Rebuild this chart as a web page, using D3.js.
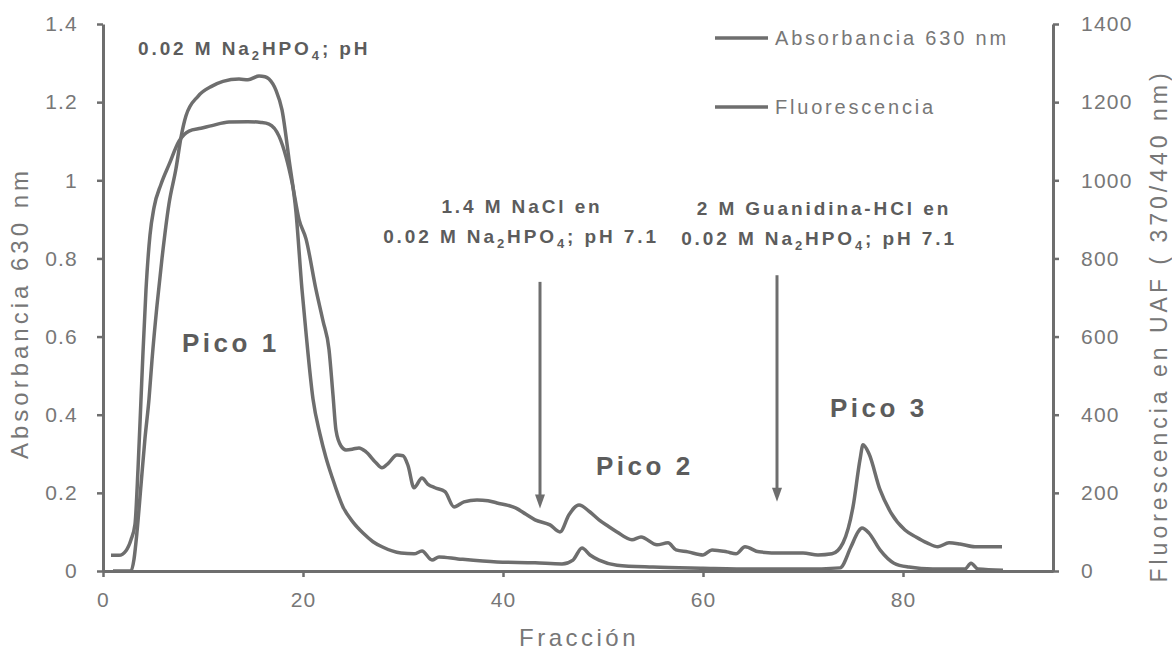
<!DOCTYPE html>
<html>
<head>
<meta charset="utf-8">
<script src="https://cdn.jsdelivr.net/npm/d3@7"></script>
<style>
  body { margin: 0; background: #fff; }
  svg { display: block; }
  text { font-family: "Liberation Sans", Arial, sans-serif; }
</style>
</head>
<body>
<div id="chart"></div>
<script>
// absorbance at 630 nm (left axis)
const fraccionAbs = [1.0, 2.8, 3.1, 3.4, 3.8, 4.2, 4.6, 4.9, 5.4, 5.9, 6.6, 7.3, 7.8, 8.3, 9.5, 10.9, 12.0, 13.6, 14.5, 15.6, 16.2, 16.6, 17.3, 17.9, 18.6, 19.3, 19.9, 20.3, 21.0, 21.7, 22.3, 22.9, 24.0, 25.0, 26.0, 27.0, 27.9, 29.8, 31.1, 31.9, 32.9, 33.6, 35.5, 39.4, 43.2, 45.9, 47.0, 47.9, 48.7, 49.6, 51.4, 55, 60, 65, 70, 73.7, 74.8, 75.5, 75.9, 76.6, 77.7, 79.1, 80.6, 83, 86.2, 86.8, 87.5, 90]
const absorbancia = [0, 0, 0.03, 0.1, 0.22, 0.34, 0.44, 0.54, 0.68, 0.80, 0.94, 1.03, 1.11, 1.165, 1.215, 1.241, 1.253, 1.259, 1.257, 1.267, 1.265, 1.259, 1.23, 1.18, 1.054, 0.918, 0.72, 0.61, 0.44, 0.35, 0.29, 0.241, 0.164, 0.125, 0.097, 0.075, 0.062, 0.046, 0.044, 0.051, 0.028, 0.036, 0.031, 0.023, 0.021, 0.018, 0.028, 0.059, 0.041, 0.028, 0.015, 0.01, 0.007, 0.005, 0.005, 0.008, 0.062, 0.10, 0.11, 0.097, 0.054, 0.02, 0.01, 0.005, 0.005, 0.02, 0.005, 0.002]

// fluorescence in UAF (right axis)
const fraccionFluor = [0.8, 1.6, 2.3, 2.8, 3.2, 3.5, 3.8, 4.0, 4.3, 4.7, 5.1, 5.8, 6.6, 7.6, 8.6, 9.8, 10.9, 12.6, 14.5, 15.8, 16.6, 17.6, 18.3, 18.9, 19.6, 20.3, 21.3, 22.0, 22.6, 23.0, 23.3, 23.8, 24.3, 25.0, 25.6, 26.3, 27.3, 27.9, 28.5, 29.4, 30.0, 30.5, 31.1, 31.9, 32.5, 33.2, 34.2, 35.1, 36.1, 37.4, 38.5, 39.4, 40.5, 41.3, 42.3, 43.2, 44.7, 45.7, 46.6, 47.6, 48.7, 49.6, 50.5, 51.4, 52.9, 53.8, 55.4, 56.5, 57.3, 58.5, 60.0, 60.9, 62.4, 63.3, 64.2, 65.6, 67.8, 70.0, 71.5, 72.9, 74.0, 75.0, 75.7, 76.0, 76.6, 77.7, 78.8, 80.2, 81.3, 82.4, 83.5, 84.6, 85.7, 87.2, 89.9]
const fluorescencia = [40, 40, 52, 80, 120, 260, 440, 560, 720, 860, 930, 990, 1040, 1100, 1126, 1133, 1140, 1149, 1150, 1148, 1144, 1113, 1060, 995, 900, 850, 720, 640, 567, 450, 360, 320, 310, 312, 315, 305, 277, 264, 275, 297, 295, 270, 213, 238, 222, 213, 203, 164, 177, 182, 180, 174, 168, 161, 145, 131, 118, 100, 144, 169, 151, 131, 115, 100, 80, 87, 67, 72, 54, 49, 41, 54, 49, 44, 62, 49, 46, 46, 41, 44, 72, 164, 285, 323, 300, 208, 149, 105, 87, 72, 62, 72, 69, 62, 62]

const xTicks = [0, 20, 40, 60, 80]
const yLeftTicks = [0, 0.2, 0.4, 0.6, 0.8, 1, 1.2, 1.4]
const yLeftLabels = ["0", "0.2", "0.4", "0.6", "0.8", "1", "1.2", "1.4"]
const yRightTicks = [0, 200, 400, 600, 800, 1000, 1200, 1400]
const leyenda = ["Absorbancia 630 nm", "Fluorescencia"]
const picos = ["Pico 1", "Pico 2", "Pico 3"]

const W = 1172, H = 651
const gray = '#6e6e6e', textGray = '#777', boldGray = '#5c5c5c'

const svg = d3.select('#chart').append('svg')
    .attr('width', W).attr('height', H)

const x = d3.scaleLinear().domain([0, 95]).range([103, 1053])
const yL = d3.scaleLinear().domain([0, 1.4]).range([571, 24])
const yR = d3.scaleLinear().domain([0, 1400]).range([571, 24])

// axes
const styleAxis = g => {
    g.select('.domain').attr('stroke', gray).attr('stroke-width', 3)
    g.selectAll('.tick line').attr('stroke', gray).attr('stroke-width', 2.5)
    g.selectAll('.tick text').attr('fill', textGray).attr('font-size', 21)
        .attr('letter-spacing', 1.2).attr('font-family', '"Liberation Sans", Arial, sans-serif')
}

svg.append('g').attr('transform', 'translate(0,571)')
    .call(d3.axisBottom(x).tickValues(xTicks).tickSize(6).tickSizeOuter(0).tickPadding(15))
    .call(styleAxis)

svg.append('g').attr('transform', 'translate(103,0)')
    .call(d3.axisLeft(yL).tickValues(yLeftTicks).tickFormat((d, i) => yLeftLabels[i])
        .tickSize(6).tickSizeOuter(0).tickPadding(19))
    .call(styleAxis)

svg.append('g').attr('transform', 'translate(1053,0)')
    .call(d3.axisRight(yR).tickValues(yRightTicks).tickFormat(d3.format('d'))
        .tickSize(6).tickSizeOuter(0).tickPadding(22))
    .call(styleAxis)

// curves
const lineAbs = d3.line().x(d => x(d[0])).y(d => yL(d[1])).curve(d3.curveMonotoneX)
const lineFluor = d3.line().x(d => x(d[0])).y(d => yR(d[1])).curve(d3.curveMonotoneX)

svg.append('path')
    .datum(d3.zip(fraccionAbs, absorbancia))
    .attr('d', lineAbs)
    .attr('fill', 'none').attr('stroke', gray).attr('stroke-width', 3.5)
    .attr('stroke-linejoin', 'round')

svg.append('path')
    .datum(d3.zip(fraccionFluor, fluorescencia))
    .attr('d', lineFluor)
    .attr('fill', 'none').attr('stroke', gray).attr('stroke-width', 3.5)
    .attr('stroke-linejoin', 'round')

// axis titles
svg.append('text')
    .attr('x', 579).attr('y', 646)
    .attr('text-anchor', 'middle').attr('font-size', 24).attr('letter-spacing', 3.5)
    .attr('fill', textGray)
    .text('Fracción')

svg.append('text')
    .attr('transform', 'translate(28,313) rotate(-90)')
    .attr('text-anchor', 'middle').attr('font-size', 24).attr('letter-spacing', 4)
    .attr('fill', textGray)
    .text('Absorbancia 630 nm')

svg.append('text')
    .attr('transform', 'translate(1167,326) rotate(-90)')
    .attr('text-anchor', 'middle').attr('font-size', 23).attr('letter-spacing', 4)
    .attr('fill', textGray)
    .text('Fluorescencia en UAF ( 370/440 nm)')

// legend
leyenda.forEach((name, i) => {
    const ly = 38 + i * 69
    svg.append('line').attr('x1', 715).attr('x2', 768).attr('y1', ly).attr('y2', ly)
        .attr('stroke', gray).attr('stroke-width', 3.5)
    svg.append('text').attr('x', 775).attr('y', ly + 7)
        .attr('font-size', 20).attr('letter-spacing', 2.8).attr('fill', textGray)
        .text(name)
})

// buffer annotations with subscripts
function buffer(xPos, yPos, anchor, parts) {
    const el = svg.append('text').attr('x', xPos).attr('y', yPos)
        .attr('text-anchor', anchor).attr('font-size', 19).attr('font-weight', 'bold')
        .attr('letter-spacing', 2.9).attr('fill', boldGray)
    parts.forEach(p => {
        const ts = el.append('tspan').text(p[0])
        if (p[1] === 'sub') ts.attr('font-size', 13).attr('dy', 5)
        if (p[1] === 'up') ts.attr('dy', -5)
    })
    return el
}
const fosfato = [['0.02 M Na'], ['2', 'sub'], ['HPO', 'up'], ['4', 'sub'], ['; pH', 'up']]
const fosfato71 = [['0.02 M Na'], ['2', 'sub'], ['HPO', 'up'], ['4', 'sub'], ['; pH 7.1', 'up']]

buffer(138, 55, 'start', fosfato)
buffer(522, 213, 'middle', [['1.4 M NaCl en']])
buffer(521, 243, 'middle', fosfato71)
buffer(824, 215, 'middle', [['2 M Guanidina-HCl en']])
buffer(819, 245, 'middle', fosfato71)

// elution arrows
;[[43.7, 0.74, 0.16], [67.4, 0.757, 0.177]].forEach(a => {
    const ax = x(a[0]), top = yL(a[1]), tip = yL(a[2])
    svg.append('line').attr('x1', ax).attr('x2', ax).attr('y1', top).attr('y2', tip - 10)
        .attr('stroke', gray).attr('stroke-width', 3)
    svg.append('path')
        .attr('d', `M${ax - 5},${tip - 14}L${ax + 5},${tip - 14}L${ax},${tip}Z`)
        .attr('fill', gray)
})

// peak labels
;[[7.9, 0.56], [49.3, 0.246], [72.7, 0.395]].forEach((p, i) => {
    svg.append('text').attr('x', x(p[0])).attr('y', yL(p[1]))
        .attr('font-size', 26).attr('font-weight', 'bold').attr('letter-spacing', 3.5)
        .attr('fill', boldGray)
        .text(picos[i])
})
</script>
</body>
</html>
